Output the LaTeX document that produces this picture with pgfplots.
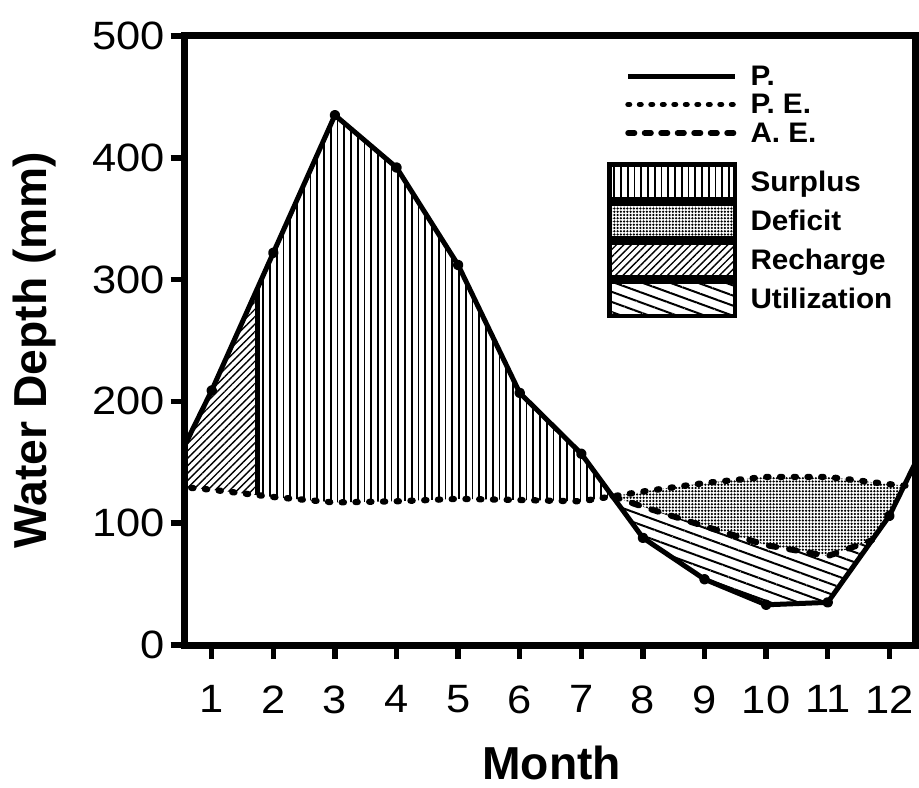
\documentclass[border=0pt]{standalone}
\usepackage{pgfplots}
\pgfplotsset{compat=1.18}
\usepackage{fontspec}
\setmainfont{Liberation Sans}
\newfontfamily\tickfont[FakeStretch=1.1]{Liberation Sans}
\newfontfamily\legfont[FakeStretch=1.05]{Liberation Sans Bold}
\newfontfamily\labfont{Liberation Sans Bold}
\usetikzlibrary{patterns.meta}

\tikzset{
  surplus/.style={pattern={Lines[angle=90,distance=2.7pt,line width=0.7pt]}},
  deficit/.style={pattern={Dots[distance=1.3pt,radius=0.5pt]}},
  recharge/.style={pattern={Lines[angle=45,distance=2.1pt,line width=0.55pt]}},
  utilization/.style={pattern={Lines[angle=-20,distance=3.8pt,line width=0.8pt]}},
}

\begin{document}
\begin{tikzpicture}
\begin{axis}[
  scale only axis, width=292.4pt, height=243.6pt,
  xmin=0.55, xmax=12.417, ymin=0, ymax=500,
  axis line style={line width=2.8pt, line cap=rect},
  xtick={1,2,...,12}, ytick={0,100,...,500},
  tick pos=left, tick align=outside,
  major tick length=5.4pt,
  every tick/.style={black, line width=2.2pt},
  /pgf/number format/assume math mode=true,
  ticklabel style={font=\tickfont\fontsize{15.8}{18}\selectfont, inner sep=0pt},
  xticklabel style={anchor=north, yshift=-10.6pt},
  yticklabel style={anchor=east, xshift=-2.2pt},
  xlabel={Month}, ylabel={Water Depth (mm)},
  every axis x label/.style={at={(axis description cs:0.503,-0.2205)}, anchor=base, inner sep=0pt, font=\labfont\fontsize{18.5}{22}\selectfont},
  every axis y label/.style={at={(axis description cs:-0.2353,0.4844)}, rotate=90, anchor=north, inner sep=0pt, font=\labfont\fontsize{18.5}{22}\selectfont},
  legend style={at={(axis description cs:0.5787,0.9577)}, anchor=north west, draw=none, fill=none, inner sep=0pt, outer sep=0pt, row sep=0pt, column sep=5.2pt, nodes={inner sep=0pt, text height=9.4pt, text depth=2pt, font=\legfont\fontsize{11.3}{13}\selectfont}},
  legend cell align=left,
]
% Surplus: P above P.E. from 1.75 to 7.506
\addplot[forget plot, draw=none, surplus] coordinates {
  (1.75,293.75) (2,322) (3,435) (4,392) (5,312) (6,207) (7,157) (7.506,122.1)
  (7,118) (6,119) (5,120) (4,118) (3,117) (2,121.5) (1.75,123)
} -- cycle;
% Recharge
\addplot[forget plot, draw=none, recharge] coordinates {
  (0.242,131) (1,209) (1.75,293.75) (1.75,123) (1,127.5) (0.242,131)
} -- cycle;
% Deficit: P.E. above A.E. (then P)
\addplot[forget plot, draw=none, deficit] coordinates {
  (7.506,122.1) (8,126) (9,133) (10,138) (11,138) (12,132) (12.242,131)
  (12,106) (11.72,86.1) (11,73) (10,82) (9,97.5) (8,113.5) (7.506,122.1)
} -- cycle;
% Utilization: A.E. above P
\addplot[forget plot, draw=none, utilization] coordinates {
  (7.506,122.1) (8,113.5) (9,97.5) (10,82) (11,73) (11.72,86.1)
  (11,35) (10,33) (9,54) (8,88) (7.506,122.1)
} -- cycle;
% P.E.
\addplot[forget plot, black, line width=2.5pt, line cap=round, dash pattern=on 0.9pt off 4.6pt] coordinates {
  (0,132) (1,127.5) (2,121.5) (3,117) (4,118) (5,120) (6,119) (7,118)
  (8,126) (9,133) (10,138) (11,138) (12,132) (13,127.5)
};
% A.E.
\addplot[forget plot, black, line width=2.4pt, line cap=round, dash pattern=on 3pt off 5.2pt] coordinates {
  (7.506,122.1) (8,113.5) (9,97.5) (10,82) (11,73) (11.72,86.1)
};
% P.
\addplot[forget plot, black, line width=2pt, line join=round, mark=*, mark size=1.1pt] coordinates {
  (0,106) (1,209) (2,322) (3,435) (4,392) (5,312) (6,207) (7,157)
  (8,88) (9,54) (10,33) (11,35) (12,106) (13,209)
};
% recharge / surplus boundary
\addplot[forget plot, black, line width=2pt] coordinates {(1.75,123) (1.75,293.75)};

\addlegendimage{black, legend image code/.code={\draw[black, line width=2pt] (8.4pt,0pt) -- (51.1pt,0pt);}}
\addlegendentry{P.}
\addlegendimage{black, legend image code/.code={\draw[black, line width=2.2pt, line cap=round, dash pattern=on 0.6pt off 4pt] (8.4pt,0pt) -- (51.1pt,0pt);}}
\addlegendentry{P. E.}
\addlegendimage{black, legend image code/.code={\draw[black, line width=2.2pt, line cap=round, dash pattern=on 2.6pt off 4pt] (8.4pt,0pt) -- (51.1pt,0pt); \path (8.4pt,-11.5pt);}}
\addlegendentry{A. E.}
\addlegendimage{black, legend image code/.code={\draw[black, line width=1.8pt, surplus] (0.9pt,-6.9pt) rectangle (51.1pt,6.9pt);}}
\addlegendentry{Surplus}
\addlegendimage{black, legend image code/.code={\draw[black, line width=1.8pt, deficit] (0.9pt,-6.9pt) rectangle (51.1pt,6.9pt);}}
\addlegendentry{Deficit}
\addlegendimage{black, legend image code/.code={\draw[black, line width=1.8pt, recharge] (0.9pt,-6.9pt) rectangle (51.1pt,6.9pt);}}
\addlegendentry{Recharge}
\addlegendimage{black, legend image code/.code={\draw[black, line width=1.8pt, utilization] (0.9pt,-6.9pt) rectangle (51.1pt,6.9pt);}}
\addlegendentry{Utilization}
\end{axis}
\pgfresetboundingbox
\path[use as bounding box] ([xshift=-73.6pt, yshift=-56.8pt]current axis.south west) rectangle ([xshift=1.6pt, yshift=14.4pt]current axis.north east);
\end{tikzpicture}
\end{document}
